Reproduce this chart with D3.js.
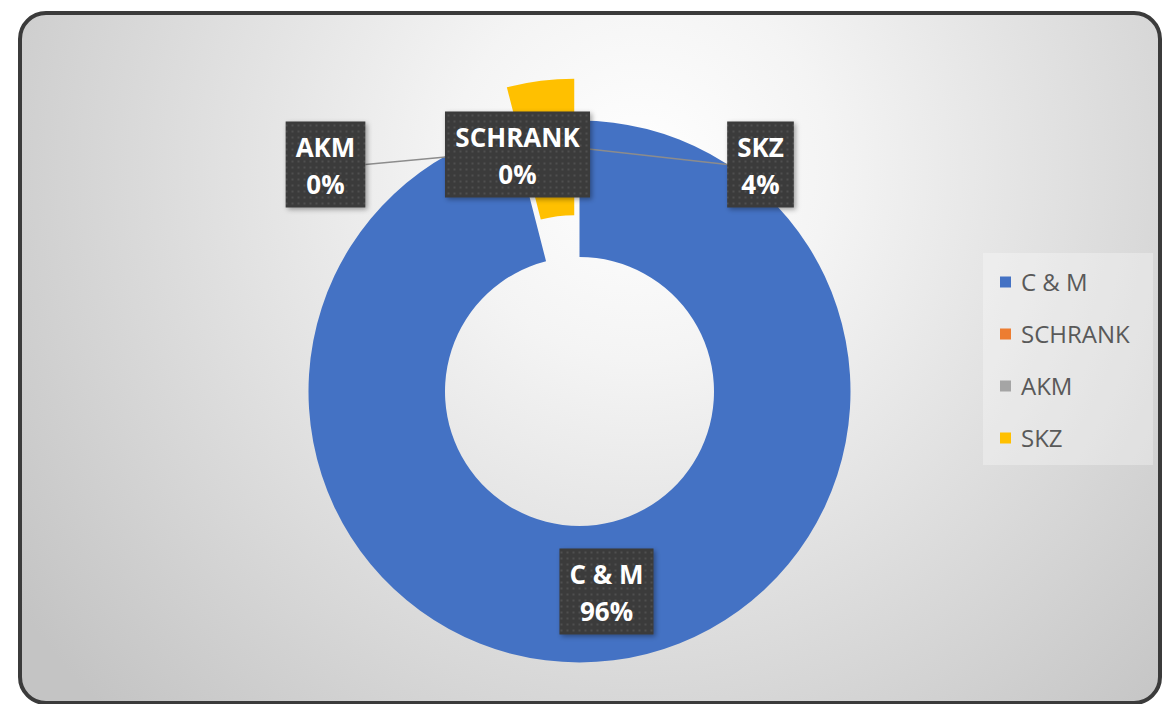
<!DOCTYPE html>
<html>
<head>
<meta charset="utf-8">
<script src="https://cdn.jsdelivr.net/npm/d3@7"></script>
<style>
  html, body { margin: 0; padding: 0; background: #fff; }
  svg { display: block; }
</style>
</head>
<body>
<div id="chart"></div>
<script>
// data
const categories = ["C & M", "SCHRANK", "AKM", "SKZ"]
const values = [96, 0, 0, 4]
const colors = ["#4472C4", "#ED7D31", "#A5A5A5", "#FFC000"]

const width = 1163, height = 704
const cx = 579.5, cy = 391.5
const outerR = 271, innerR = 134.5
const explode = [0, 0, 0, 42]
// label box centres, relative to the donut centre
const labelOffsets = [[27, 200], [-62, -237], [-254, -227], [181, -227]]
const labelOrder = [0, 3, 2, 1] // draw SCHRANK last so it sits on top
const leaderR = 249

const svg = d3.select("#chart").append("svg")
    .attr("width", width)
    .attr("height", height)

const defs = svg.append("defs")

const grad = defs.append("radialGradient")
    .attr("id", "bg")
    .attr("gradientUnits", "userSpaceOnUse")
    .attr("cx", 640).attr("cy", 170).attr("r", 760)
grad.append("stop").attr("offset", 0).attr("stop-color", "#ffffff")
grad.append("stop").attr("offset", 0.25).attr("stop-color", "#f4f4f4")
grad.append("stop").attr("offset", 1).attr("stop-color", "#c4c4c4")

const pat = defs.append("pattern")
    .attr("id", "dots")
    .attr("patternUnits", "userSpaceOnUse")
    .attr("width", 6).attr("height", 6)
pat.append("rect").attr("width", 6).attr("height", 6).attr("fill", "#3a3a3a")
pat.append("circle").attr("cx", 3).attr("cy", 3).attr("r", 0.9).attr("fill", "#595959")

const shadow = defs.append("filter").attr("id", "shadow")
    .attr("x", "-20%").attr("y", "-20%").attr("width", "150%").attr("height", "150%")
shadow.append("feDropShadow")
    .attr("dx", 2).attr("dy", 2).attr("stdDeviation", 2.5)
    .attr("flood-color", "#000").attr("flood-opacity", 0.35)

// background panel
svg.append("rect")
    .attr("x", 20).attr("y", 13)
    .attr("width", 1140).attr("height", 690)
    .attr("rx", 26).attr("ry", 26)
    .attr("fill", "url(#bg)")
    .attr("stroke", "#3b3b3b")
    .attr("stroke-width", 4)

const pie = d3.pie().sort(null).value(d => d)
const arcs = pie(values)
const arc = d3.arc().innerRadius(innerR).outerRadius(outerR)

const g = svg.append("g").attr("transform", `translate(${cx},${cy})`)

g.selectAll("path.slice")
    .data(arcs)
    .join("path")
    .attr("class", "slice")
    .attr("fill", (d, i) => colors[i])
    .attr("d", arc)
    .attr("transform", (d, i) => {
        const a = (d.startAngle + d.endAngle) / 2
        return `translate(${Math.sin(a) * explode[i]},${-Math.cos(a) * explode[i]})`
    })

const boxes = []
const pctText = values.map(v => Math.round(v / d3.sum(values) * 100) + "%")

const labels = g.append("g")
labelOrder.forEach(i => {
    const [ox, oy] = labelOffsets[i]
    const lg = labels.append("g").attr("transform", `translate(${ox},${oy})`)
    const t = lg.append("text")
        .attr("text-anchor", "middle")
        .attr("fill", "#fff")
        .attr("font-family", "'Open Sans', sans-serif")
        .attr("font-weight", 700)
        .attr("font-size", 26)
    t.append("tspan").attr("x", 0).attr("y", -8).text(categories[i])
    t.append("tspan").attr("x", 0).attr("y", 29).text(pctText[i])
    const w = Math.max(t.node().getBBox().width + 20, 66)
    const h = 86
    boxes[i] = {x: ox - w / 2, y: oy - h / 2, w: w, h: h}
    lg.insert("rect", "text")
        .attr("x", -w / 2).attr("y", -h / 2)
        .attr("width", w).attr("height", h)
        .attr("fill", "url(#dots)")
        .attr("filter", "url(#shadow)")
})

// leaders from label edge toward the slice, drawn under the labels
const leaders = g.insert("g", () => labels.node())
arcs.forEach((d, i) => {
    if (i === 0 || i === 1) return
    const a = (d.startAngle + d.endAngle) / 2
    const tx = Math.sin(a) * leaderR, ty = -Math.cos(a) * leaderR
    const b = boxes[i]
    const sx = b.x + b.w / 2 < tx ? b.x + b.w : b.x
    const sy = b.y + b.h / 2
    leaders.append("path")
        .attr("d", d3.line()([[sx, sy], [tx, ty]]))
        .attr("stroke", "#8c8c8c")
        .attr("stroke-width", 1.5)
        .attr("fill", "none")
})

// legend
svg.append("rect")
    .attr("x", 983).attr("y", 253)
    .attr("width", 170).attr("height", 212)
    .attr("fill", "#ffffff").attr("fill-opacity", 0.3)

const ly = d3.scalePoint().domain(categories).range([282, 438])
const legend = svg.append("g").selectAll("g")
    .data(categories)
    .join("g")
    .attr("transform", d => `translate(1000,${ly(d)})`)
legend.append("rect")
    .attr("x", 0).attr("y", -5.5)
    .attr("width", 11).attr("height", 11)
    .attr("fill", (d, i) => colors[i])
legend.append("text")
    .attr("x", 21).attr("y", 0)
    .attr("dy", "0.36em")
    .attr("fill", "#595959")
    .attr("font-family", "'Open Sans', sans-serif")
    .attr("font-size", 24)
    .text(d => d)
</script>
</body>
</html>
